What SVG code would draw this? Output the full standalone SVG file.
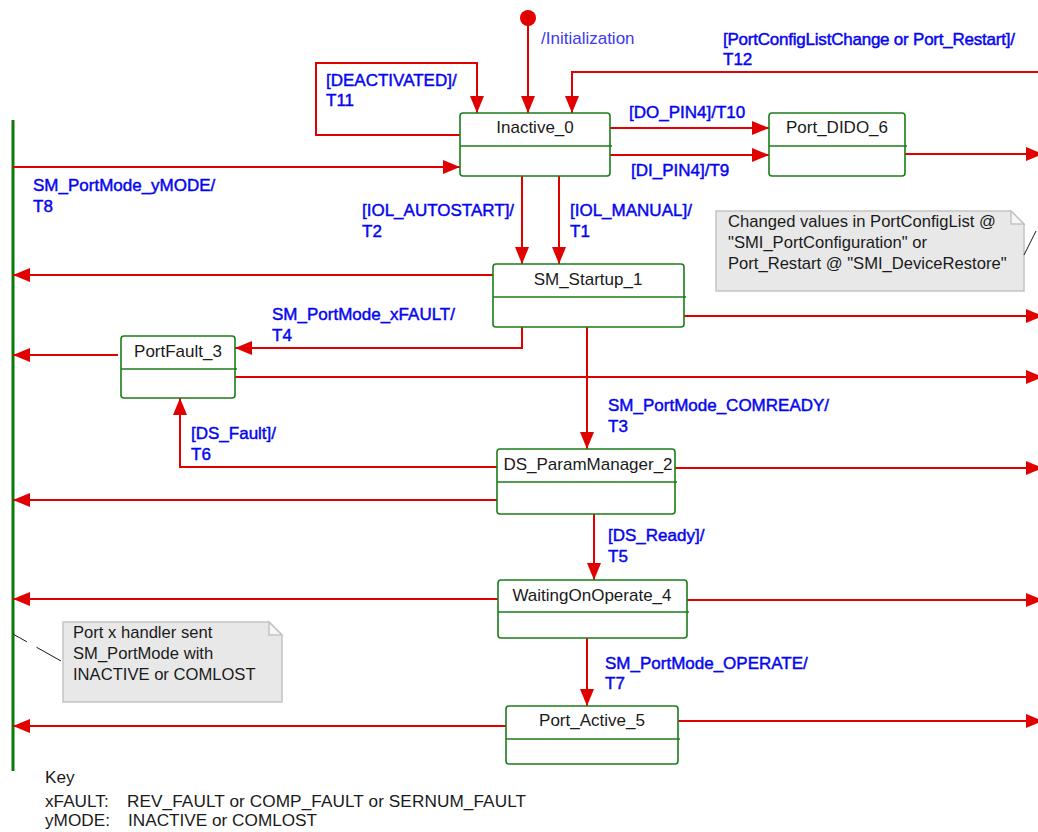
<svg xmlns="http://www.w3.org/2000/svg" width="1038" height="832" viewBox="0 0 1038 832">
  <style>
    .state rect { fill: #ffffff; stroke: #1a7d1a; stroke-width: 1.6; }
    .state line { stroke: #1a7d1a; stroke-width: 1.6; }
    .name { font-family: "Liberation Sans", Arial, sans-serif; font-size: 17px; fill: #1a1a1a; text-anchor: middle; }
    .lbl { font-family: "Liberation Sans", Arial, sans-serif; font-size: 17px; fill: #0505f0; stroke: #0505f0; stroke-width: 0.45; }
    .init { font-family: "Liberation Sans", Arial, sans-serif; font-size: 17px; fill: #3a3af0; }
    .tr { fill: none; stroke: #e00000; stroke-width: 2; }
    .tra { fill: none; stroke: #e00000; stroke-width: 2; marker-end: url(#head); }
    .note path { fill: #e8e8e8; stroke: #c4c4c4; stroke-width: 1.5; }
    .note .fold { fill: #f6f6f6; }
    .ntext { font-family: "Liberation Sans", Arial, sans-serif; font-size: 16.6px; fill: #1a1a1a; }
    .key { font-family: "Liberation Sans", Arial, sans-serif; font-size: 17.2px; fill: #1a1a1a; }
  </style>
  <defs>
    <marker id="head" markerUnits="userSpaceOnUse" markerWidth="18" markerHeight="15" refX="17" refY="7" orient="auto">
      <path d="M0,0 L17,7 L0,14 Z" fill="#e00000"/>
    </marker>
  </defs>

  <!-- exit bar on the left -->
  <line id="exit-bar" x1="13" y1="120" x2="13" y2="771" stroke="#0a7a0a" stroke-width="3"/>

  <!-- transitions -->
  <g id="connectors">
    <!-- initial pseudo-state -->
    <circle cx="528" cy="18" r="8" fill="#e00000"/>
    <path class="tra" d="M528,18 V113"/>
    <!-- T11 self loop -->
    <path class="tra" d="M460,135 H316 V63 H477 V113"/>
    <!-- T12 from the right -->
    <path class="tra" d="M1038,72 H572 V113"/>
    <!-- T10 / T9 -->
    <path class="tra" d="M610,128 H769"/>
    <path class="tra" d="M610,155 H769"/>
    <!-- Port_DIDO_6 out -->
    <path class="tra" d="M905,154 H1043"/>
    <!-- T8 -->
    <path class="tra" d="M13,167 H460"/>
    <!-- T2 / T1 -->
    <path class="tra" d="M522,176 V264"/>
    <path class="tra" d="M559,176 V264"/>
    <!-- SM_Startup_1 to exit bar and right -->
    <path class="tra" d="M493,275 H13"/>
    <path class="tra" d="M684,316 H1043"/>
    <!-- T4 -->
    <path class="tra" d="M522,327 V348 H235"/>
    <!-- PortFault_3 to exit bar and right -->
    <path class="tra" d="M118,355 H13"/>
    <path class="tra" d="M235,377 H1043"/>
    <!-- T3 -->
    <path class="tra" d="M587,327 V449"/>
    <!-- T6 -->
    <path class="tra" d="M497,467 H180 V398"/>
    <!-- DS_ParamManager_2 to exit bar and right -->
    <path class="tra" d="M497,500 H13"/>
    <path class="tra" d="M675,468 H1043"/>
    <!-- T5 -->
    <path class="tra" d="M594,514 V580"/>
    <!-- WaitingOnOperate_4 to exit bar and right -->
    <path class="tra" d="M498,599 H13"/>
    <path class="tra" d="M687,600 H1043"/>
    <!-- T7 -->
    <path class="tra" d="M587,638 V706"/>
    <!-- Port_Active_5 to exit bar and right -->
    <path class="tra" d="M506,726 H13"/>
    <path class="tra" d="M678,721 H1043"/>
  </g>

  <!-- transition labels -->
  <g id="labels">
    <text class="init" x="541" y="44">/Initialization</text>
    <text class="lbl" x="326" y="86">[DEACTIVATED]/</text>
    <text class="lbl" x="326" y="106">T11</text>
    <text class="lbl" x="723" y="45" textLength="292">[PortConfigListChange or Port_Restart]/</text>
    <text class="lbl" x="723" y="65">T12</text>
    <text class="lbl" x="629" y="118">[DO_PIN4]/T10</text>
    <text class="lbl" x="631" y="176">[DI_PIN4]/T9</text>
    <text class="lbl" x="33" y="191">SM_PortMode_yMODE/</text>
    <text class="lbl" x="33" y="212">T8</text>
    <text class="lbl" x="362" y="216">[IOL_AUTOSTART]/</text>
    <text class="lbl" x="362" y="237">T2</text>
    <text class="lbl" x="570" y="216">[IOL_MANUAL]/</text>
    <text class="lbl" x="570" y="237">T1</text>
    <text class="lbl" x="272" y="320">SM_PortMode_xFAULT/</text>
    <text class="lbl" x="272" y="341">T4</text>
    <text class="lbl" x="608" y="411">SM_PortMode_COMREADY/</text>
    <text class="lbl" x="608" y="432">T3</text>
    <text class="lbl" x="191" y="439">[DS_Fault]/</text>
    <text class="lbl" x="191" y="460">T6</text>
    <text class="lbl" x="608" y="541">[DS_Ready]/</text>
    <text class="lbl" x="608" y="562">T5</text>
    <text class="lbl" x="605" y="669">SM_PortMode_OPERATE/</text>
    <text class="lbl" x="605" y="689">T7</text>
  </g>

  <!-- states -->
  <g id="Inactive_0" class="state">
    <rect x="460" y="113" width="150" height="63" rx="3"/>
    <line x1="460" y1="146" x2="612" y2="146"/>
    <text class="name" x="535" y="133">Inactive_0</text>
  </g>
  <g id="Port_DIDO_6" class="state">
    <rect x="769" y="113" width="136" height="63" rx="3"/>
    <line x1="769" y1="146" x2="907" y2="146"/>
    <text class="name" x="837" y="133">Port_DIDO_6</text>
  </g>
  <g id="SM_Startup_1" class="state">
    <rect x="493" y="264" width="191" height="63" rx="3"/>
    <line x1="493" y1="297" x2="686" y2="297"/>
    <text class="name" x="588" y="285">SM_Startup_1</text>
  </g>
  <g id="PortFault_3" class="state">
    <rect x="121" y="336" width="114" height="62" rx="3"/>
    <line x1="121" y1="369" x2="237" y2="369"/>
    <text class="name" x="178" y="357">PortFault_3</text>
  </g>
  <g id="DS_ParamManager_2" class="state">
    <rect x="497" y="449" width="178" height="65" rx="3"/>
    <line x1="497" y1="482" x2="677" y2="482"/>
    <text class="name" x="588" y="470">DS_ParamManager_2</text>
  </g>
  <g id="WaitingOnOperate_4" class="state">
    <rect x="498" y="580" width="189" height="58" rx="3"/>
    <line x1="498" y1="612" x2="689" y2="612"/>
    <text class="name" x="592" y="601">WaitingOnOperate_4</text>
  </g>
  <g id="Port_Active_5" class="state">
    <rect x="506" y="706" width="172" height="58" rx="3"/>
    <line x1="506" y1="739" x2="680" y2="739"/>
    <text class="name" x="592" y="726">Port_Active_5</text>
  </g>

  <!-- comments -->
  <g id="note-config" class="note">
    <path d="M716,211 H1011 L1024,224 V291 H716 Z"/>
    <path class="fold" d="M1011,211 V224 H1024 Z"/>
    <line x1="1024" y1="255" x2="1036" y2="231" stroke="#1a1a1a" stroke-width="1"/>
    <text class="ntext" x="728" y="227">Changed values in PortConfigList @</text>
    <text class="ntext" x="728" y="248">"SMI_PortConfiguration" or</text>
    <text class="ntext" x="728" y="269">Port_Restart @ "SMI_DeviceRestore"</text>
  </g>
  <g id="note-handler" class="note">
    <path d="M63,622 H269 L282,635 V702 H63 Z"/>
    <path class="fold" d="M269,622 V635 H282 Z"/>
    <line x1="13" y1="634" x2="61" y2="661" stroke="#1a1a1a" stroke-width="1" stroke-dasharray="16 11 40"/>
    <text class="ntext" x="73" y="638">Port x handler sent</text>
    <text class="ntext" x="73" y="659">SM_PortMode with</text>
    <text class="ntext" x="73" y="680">INACTIVE or COMLOST</text>
  </g>

  <!-- key -->
  <g id="key">
    <text class="key" x="45" y="783">Key</text>
    <text class="key" x="45" y="807">xFAULT:</text>
    <text class="key" x="127" y="807" textLength="399">REV_FAULT or COMP_FAULT or SERNUM_FAULT</text>
    <text class="key" x="45" y="826">yMODE:</text>
    <text class="key" x="128" y="826">INACTIVE or COMLOST</text>
  </g>
</svg>
